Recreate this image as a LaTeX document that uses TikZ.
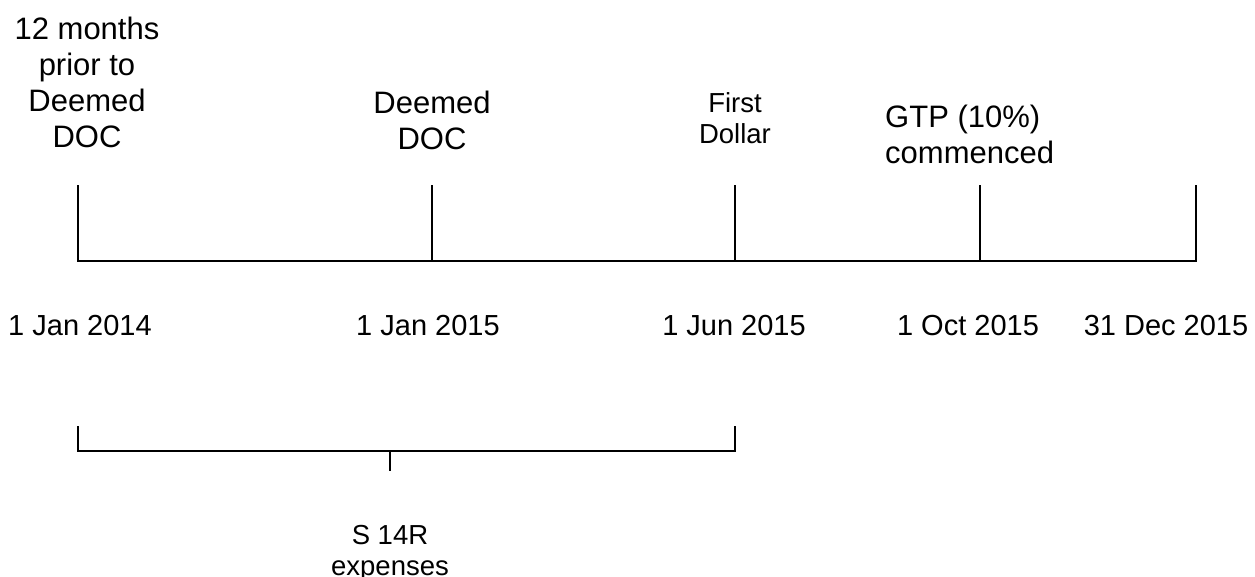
\documentclass[tikz,border=0pt]{standalone}
\usepackage{fontspec}
\setmainfont{Liberation Sans}
\begin{document}
\begin{tikzpicture}[x=1pt,y=-1pt,
  line/.style={line width=1.9pt, line cap=rect},
  thin line/.style={line width=1.4pt},
  big/.style={font=\fontsize{31}{36}\selectfont, align=center, inner sep=0pt, anchor=north},
  mid/.style={font=\fontsize{27.5}{31}\selectfont, align=center, inner sep=0pt, anchor=north},
  date/.style={font=\fontsize{29}{34}\selectfont, inner sep=0pt, anchor=north}]
\useasboundingbox (0,0) rectangle (1255,576);
% timeline points
\coordinate (t1) at (78,261);
\coordinate (t2) at (432,261);
\coordinate (t3) at (735,261);
\coordinate (t4) at (980,261);
\coordinate (t5) at (1196,261);
\coordinate (u1) at (78,186);
\coordinate (u2) at (432,186);
\coordinate (u3) at (735,186);
\coordinate (u4) at (980,186);
\coordinate (u5) at (1196,186);
\draw[line] (t1) -- (t5);
\draw[line] (t1) -- (u1);
\draw[line] (t2) -- (u2);
\draw[line] (t3) -- (u3);
\draw[line] (t4) -- (u4);
\draw[line] (t5) -- (u5);
% labels top
\node[big] (l1) at (87,17) {12 months\\prior to\\Deemed\\DOC};
\node[big] (l2) at (432,91) {Deemed\\DOC};
\node[mid] (l3) at (735,92) {First\\Dollar};
\node[big, align=left, anchor=north west] (l4) at (885,105) {GTP (10\%)\\commenced};
% dates
\node[date] (d1) at (80,315) {1 Jan 2014};
\node[date] (d2) at (428,315) {1 Jan 2015};
\node[date] (d3) at (734,315) {1 Jun 2015};
\node[date] (d4) at (968,315) {1 Oct 2015};
\node[date] (d5) at (1166,315) {31 Dec 2015};
% bracket
\coordinate (b1) at (78,426);
\coordinate (b2) at (78,451);
\coordinate (b3) at (735,451);
\coordinate (b4) at (735,426);
\coordinate (bm) at (390,451);
\coordinate (bt) at (390,471);
\draw[line, line cap=butt] (b1) -- (b2) -- (b3) -- (b4);
\draw[thin line] (bm) -- (bt);
\node[mid] (s) at (390,525) {S 14R\\expenses};
\end{tikzpicture}
\end{document}
